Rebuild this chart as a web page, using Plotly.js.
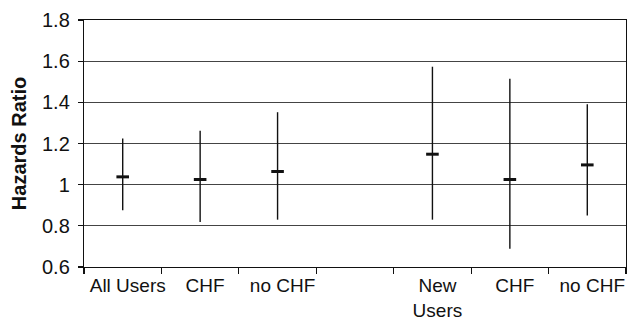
<!DOCTYPE html>
<html><head><meta charset="utf-8">
<script src="https://cdn.plot.ly/plotly-3.0.1.min.js"></script>
<style>html,body{margin:0;padding:0;background:#fff}#chart{width:630px;height:322px}</style>
</head><body><div id="chart"></div>
<script>
var categories = ["All Users", "CHF", "no CHF", "", "New<br>Users", "CHF", "no CHF"];
var positions = [0, 1, 2, 4, 5, 6];
var hazardRatio = [1.038, 1.025, 1.064, 1.148, 1.025, 1.096];
var lowerCI = [0.876, 0.819, 0.830, 0.830, 0.689, 0.850];
var upperCI = [1.224, 1.262, 1.352, 1.573, 1.515, 1.391];
var yTicks = [0.6, 0.8, 1, 1.2, 1.4, 1.6, 1.8];
var yTickText = ["0.6", "0.8", "1", "1.2", "1.4", "1.6", "1.8"];

var plus = upperCI.map(function(u, i){ return u - hazardRatio[i]; });
var minus = lowerCI.map(function(l, i){ return hazardRatio[i] - l; });

var trace = {
  x: positions, y: hazardRatio, type: 'scatter', mode: 'markers',
  marker: {symbol: 'line-ew', size: 9, color: '#111', line: {color: '#111', width: 3}},
  error_y: {type: 'data', symmetric: false, array: plus, arrayminus: minus,
            color: '#111', thickness: 1.4, width: 0},
  hoverinfo: 'none', showlegend: false
};

var font = {family: 'Liberation Sans, Arial, sans-serif', size: 20, color: '#111'};
var xfont = {family: 'Liberation Sans, Arial, sans-serif', size: 19, color: '#111'};
var layout = {
  width: 630, height: 322,
  margin: {l: 84, r: 4, t: 20, b: 55},
  paper_bgcolor: '#fff', plot_bgcolor: '#fff',
  font: font, showlegend: false,
  xaxis: {
    range: [-0.5, 6.5], tickmode: 'array',
    tickvals: [0, 1, 2, 3, 4, 5, 6], ticktext: categories,
    ticks: '', showgrid: false, zeroline: false,
    showline: true, linecolor: '#111', linewidth: 1.2, mirror: true,
    tickfont: xfont, ticklabelstandoff: 1, ticklabelshift: 5,
    minor: {tick0: -0.5, dtick: 1, ticks: 'outside', ticklen: 6, tickcolor: '#111', tickwidth: 1.2, showgrid: false}
  },
  yaxis: {
    range: [0.6, 1.8], tickmode: 'array', tickvals: yTicks, ticktext: yTickText,
    ticks: 'outside', ticklen: 5, tickcolor: '#111', tickwidth: 1.2,
    showgrid: true, gridcolor: '#444', gridwidth: 1.2, zeroline: false,
    showline: true, linecolor: '#111', linewidth: 1.2, mirror: true,
    tickfont: font, ticklabelstandoff: 4,
    title: {text: '<b>Hazards Ratio</b>', font: {family: 'Liberation Sans, Arial, sans-serif', size: 20, color: '#111'}, standoff: 10}
  }
};
Plotly.newPlot('chart', [trace], layout, {displayModeBar: false, staticPlot: true});
</script></body></html>
